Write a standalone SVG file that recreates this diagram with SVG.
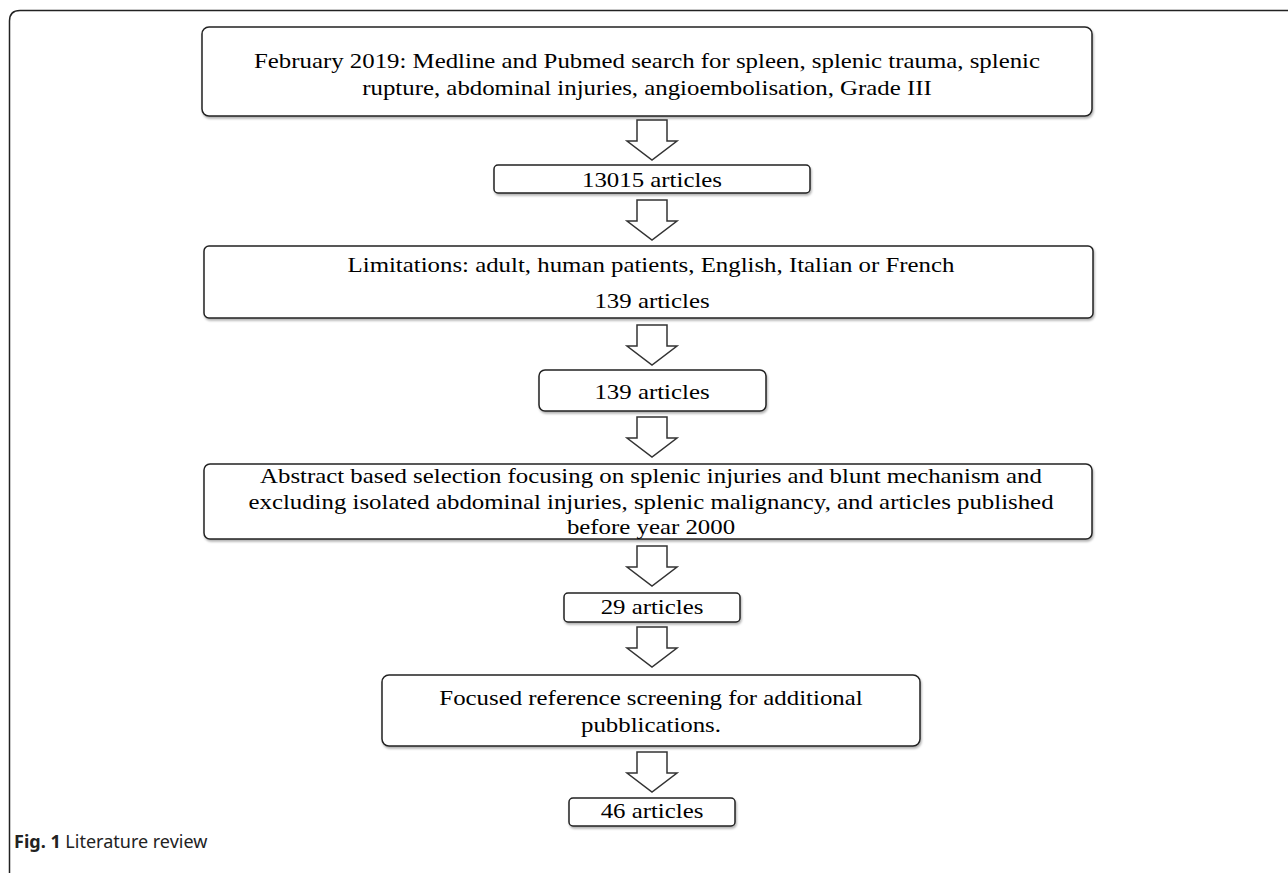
<svg xmlns="http://www.w3.org/2000/svg" width="1288" height="873" viewBox="0 0 1288 873">
<style>
.box{fill:#fff;stroke:#222;stroke-width:1.5;filter:url(#sh)}
.arr{fill:#fff;stroke:#333;stroke-width:1.5;stroke-linejoin:miter}
.t{font-family:"Liberation Serif","Times New Roman",serif;font-size:21.6px;fill:#000;text-anchor:middle}
.cap{font-family:"Noto Sans","Liberation Sans",sans-serif;font-size:18px;fill:#222}
</style>
<defs>
<filter id="sh" x="-5%" y="-20%" width="110%" height="150%">
<feDropShadow dx="1" dy="2" stdDeviation="1.2" flood-color="#000" flood-opacity="0.3"/>
</filter>
<path id="arrow" d="M-15,0 H15 V21 H25 L0,40 L-25,21 H-15 Z"/>
</defs>
<rect width="1288" height="873" fill="#fff"/>
<path d="M9.5,873 V21 Q9.5,10.5 20,10.5 H1288" fill="none" stroke="#222" stroke-width="1.5"/>

<g id="connectors">
<use href="#arrow" class="arr" transform="translate(652,120)"/>
<use href="#arrow" class="arr" transform="translate(652,200)"/>
<use href="#arrow" class="arr" transform="translate(652,325)"/>
<use href="#arrow" class="arr" transform="translate(652,417)"/>
<use href="#arrow" class="arr" transform="translate(652,546)"/>
<use href="#arrow" class="arr" transform="translate(652,627)"/>
<use href="#arrow" class="arr" transform="translate(652,752)"/>
</g>

<g id="n1">
<rect class="box" x="202" y="27" width="890" height="89" rx="7"/>
<text class="t" transform="translate(647,0) scale(1.15,1)" x="0" y="68">February 2019: Medline and Pubmed search for spleen, splenic trauma, splenic</text>
<text class="t" transform="translate(647,0) scale(1.15,1)" x="0" y="95">rupture, abdominal injuries, angioembolisation, Grade III</text>
</g>
<g id="n2">
<rect class="box" x="494" y="165" width="316" height="28" rx="4"/>
<text class="t" transform="translate(652,0) scale(1.15,1)" x="0" y="187">13015 articles</text>
</g>
<g id="n3">
<rect class="box" x="204" y="246" width="889" height="72" rx="5"/>
<text class="t" transform="translate(651,0) scale(1.15,1)" x="0" y="272">Limitations: adult, human patients, English, Italian or French</text>
<text class="t" transform="translate(652,0) scale(1.15,1)" x="0" y="308">139 articles</text>
</g>
<g id="n4">
<rect class="box" x="539" y="370" width="227" height="41" rx="6"/>
<text class="t" transform="translate(652,0) scale(1.15,1)" x="0" y="399">139 articles</text>
</g>
<g id="n5">
<rect class="box" x="204" y="464" width="888" height="75" rx="6"/>
<text class="t" transform="translate(651,0) scale(1.15,1)" x="0" y="483">Abstract based selection focusing on splenic injuries and blunt mechanism and</text>
<text class="t" transform="translate(651,0) scale(1.15,1)" x="0" y="509">excluding isolated abdominal injuries, splenic malignancy, and articles published</text>
<text class="t" transform="translate(651,0) scale(1.15,1)" x="0" y="534">before year 2000</text>
</g>
<g id="n6">
<rect class="box" x="564" y="593" width="176" height="29" rx="4"/>
<text class="t" transform="translate(652,0) scale(1.15,1)" x="0" y="614">29 articles</text>
</g>
<g id="n7">
<rect class="box" x="382" y="675" width="538" height="71" rx="7"/>
<text class="t" transform="translate(651,0) scale(1.15,1)" x="0" y="705">Focused reference screening for additional</text>
<text class="t" transform="translate(651,0) scale(1.15,1)" x="0" y="732">pubblications.</text>
</g>
<g id="n8">
<rect class="box" x="569" y="798" width="166" height="28" rx="4"/>
<text class="t" transform="translate(652,0) scale(1.15,1)" x="0" y="818">46 articles</text>
</g>
<text class="cap" x="14" y="848"><tspan font-weight="bold">Fig. 1</tspan> Literature review</text>
</svg>
